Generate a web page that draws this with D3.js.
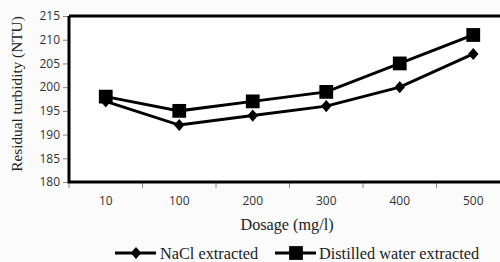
<!DOCTYPE html>
<html><head><meta charset="utf-8">
<script src="https://cdn.jsdelivr.net/npm/d3@7"></script>
<style>html,body{margin:0;padding:0;background:#fbfbfb;overflow:hidden}</style>
</head><body>
<script>
const categories = ["10","100","200","300","400","500"];
const nacl = [197,192,194,196,200,207];
const distilled = [198,195,197,199,205,211];
const yTicks = [180,185,190,195,200,205,210,215];
const seriesNames = ["NaCl extracted","Distilled water extracted"];

const W=500,H=262;
const m={left:69,top:16};
const svg=d3.select("body").append("svg").attr("width",W).attr("height",H);
const x=d3.scaleBand().domain(categories).range([m.left,510]);
const y=d3.scaleLinear().domain([180,215]).range([182,16]);

svg.append("rect").attr("x",m.left).attr("y",16).attr("width",510-m.left).attr("height",166).attr("fill","#fff");

// y axis
const ya=svg.append("g").attr("transform",`translate(${m.left},0)`).call(d3.axisLeft(y).tickValues(yTicks).tickSize(6).tickPadding(3));
ya.select(".domain").remove();
ya.selectAll("line").attr("stroke","#888");
ya.selectAll("text").attr("font-family","'Open Sans',sans-serif").attr("font-size",12).attr("fill","#333");

// x axis ticks at band boundaries
const xa=svg.append("g").attr("transform",`translate(0,182)`).call(d3.axisBottom(x).tickSize(0).tickPadding(14));
xa.select(".domain").remove();
xa.selectAll("text").attr("font-family","'Open Sans',sans-serif").attr("font-size",12).attr("fill","#333");
svg.append("g").selectAll("line").data(categories).join("line")
  .attr("x1",d=>x(d)).attr("x2",d=>x(d)).attr("y1",182).attr("y2",188).attr("stroke","#888");

// frame
svg.append("path").attr("d",`M${m.left},182H510M${m.left},16H510M${m.left},16V183.5`).attr("stroke","#000").attr("stroke-width",3).attr("fill","none");

const line=d3.line().x((d,i)=>x(categories[i])+x.bandwidth()/2).y(d=>y(d));
svg.append("path").datum(nacl).attr("d",line).attr("fill","none").attr("stroke","#000").attr("stroke-width",3);
svg.append("path").datum(distilled).attr("d",line).attr("fill","none").attr("stroke","#000").attr("stroke-width",3);

const diamond=d3.symbol().type(d3.symbolDiamond2).size(70);
const square=d3.symbol().type(d3.symbolSquare).size(190);
svg.append("g").selectAll("path").data(nacl).join("path").attr("d",diamond)
  .attr("transform",(d,i)=>`translate(${x(categories[i])+x.bandwidth()/2},${y(d)}) scale(1,1.15)`).attr("fill","#000");
svg.append("g").selectAll("path").data(distilled).join("path").attr("d",square)
  .attr("transform",(d,i)=>`translate(${x(categories[i])+x.bandwidth()/2},${y(d)})`).attr("fill","#000");

// titles
svg.append("text").attr("transform","translate(22,94) rotate(-90)").attr("text-anchor","middle")
  .attr("font-family","'Liberation Serif',serif").attr("font-size",15.3).attr("fill","#222").text("Residual turbidity (NTU)");
svg.append("text").attr("x",287).attr("y",230).attr("text-anchor","middle")
  .attr("font-family","'Liberation Serif',serif").attr("font-size",16.2).attr("fill","#222").text("Dosage (mg/l)");

// legend
const lg=svg.append("g").attr("font-family","'Liberation Serif',serif").attr("font-size",16.3).attr("fill","#222");
lg.append("line").attr("x1",115).attr("x2",156).attr("y1",253).attr("y2",253).attr("stroke","#000").attr("stroke-width",3);
lg.append("path").attr("d",diamond).attr("transform","translate(136,253) scale(1,1.15)").attr("fill","#000");
lg.append("text").attr("x",160).attr("y",258.5).text(seriesNames[0]);
lg.append("line").attr("x1",275).attr("x2",316).attr("y1",253).attr("y2",253).attr("stroke","#000").attr("stroke-width",3);
lg.append("path").attr("d",square).attr("transform","translate(296,253)").attr("fill","#000");
lg.append("text").attr("x",319).attr("y",258.5).text(seriesNames[1]);
</script>
</body></html>
